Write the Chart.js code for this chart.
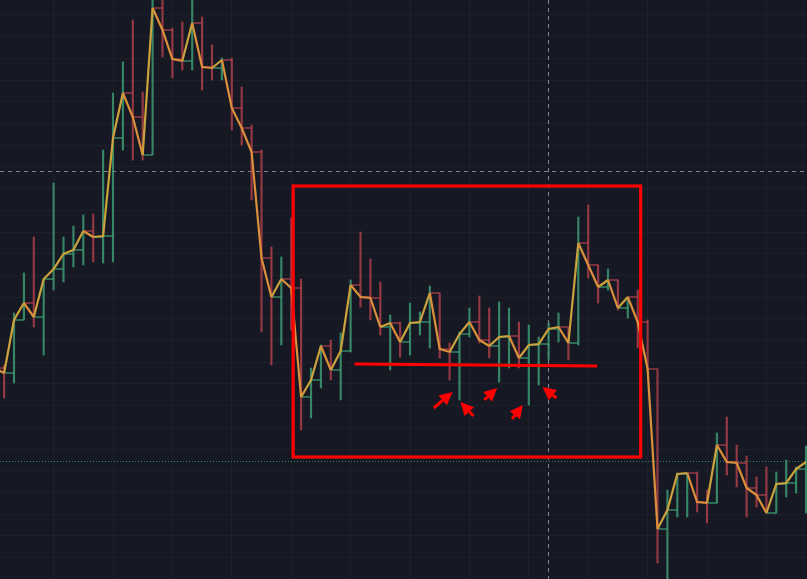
<!DOCTYPE html>
<html>
<head>
<meta charset="utf-8">
<script src="https://cdn.jsdelivr.net/npm/chart.js@4.4.1/dist/chart.umd.min.js"></script>
<style>
html,body{margin:0;padding:0;background:#161924;overflow:hidden}
#wrap{width:807px;height:579px;position:relative}
canvas{display:block}
</style>
</head>
<body>
<div id="wrap"><canvas id="c" width="807" height="579"></canvas></div>
<script>
// ---- data (price units) ----
const opens  = [240,232,227,280,297,283,321,331,346,350,369,363,364,462,507,483,445,592,570,541,539,577,533,532,540,492,472,448,342,303,321,312,203,220,254,230,249,315,303,302,273,277,258,277,278,307,251,248,266,278,260,254,263,264,242,255,256,271,273,257,357,335,313,320,292,303,278,231,71,90,126,127,98,97,155,138,137,112,105,87,116,117,131];
const highs  = [245,235,287,327,363,320,417,363,374,385,386,450,507,538,580,508,605,605,572,578,605,583,555,542,542,513,475,450,353,343,382,321,232,255,260,267,320,368,341,318,285,278,297,288,314,307,257,268,292,304,292,298,292,278,275,263,277,287,273,383,395,335,331,320,303,310,280,231,110,127,127,128,110,167,183,155,144,123,133,128,140,133,154];
const lows   = [225,202,217,280,273,245,310,318,333,335,338,337,338,450,440,440,445,543,522,530,530,510,520,520,470,455,400,268,235,255,270,170,182,212,220,200,248,293,280,265,230,243,245,265,252,242,220,200,263,257,242,218,232,232,195,215,240,258,240,255,322,297,310,290,282,252,230,37,10,83,83,88,77,97,125,113,83,93,87,87,103,107,87];
const closes = [232,227,280,297,283,321,331,346,350,369,363,364,462,507,483,445,592,570,541,539,577,533,532,540,492,472,448,342,303,321,312,203,220,254,230,249,315,303,302,273,277,258,277,278,307,251,248,266,278,260,254,263,264,242,255,256,271,273,257,357,335,313,320,292,303,278,231,71,90,126,127,98,97,155,138,137,112,105,87,116,117,131,138];
const barIndex = closes.map((_, i) => i);

// grid positions (no labels shown on the chart)
const xGridTicks = [0,6,12,18,24,30,36,42,48,54,60,66,72,78];
const yGridTicks = [585,563.3,541.6,519.9,498.2,476.5,454.8,433.1,411.4,389.7,368,346.3,324.6,302.9,281.2,259.5,237.8,216.1,194.4,172.7,151,129.3,107.6,85.9,64.2,42.5];

// drawn annotations (in bar-index / price units)
const highlightBox = [30.2, 65.3, 143, 414];      // fromBar, toBar, lowPrice, highPrice
const supportLine  = [36.4, 236, 60.9, 234];      // bar, price, bar, price
const arrowTails   = [[44.4,192],[48.4,184],[49.5,200],[52.3,181],[56.8,202]];
const arrowHeads   = [[46.3,208],[47.1,198],[50.8,212],[53.4,195],[55.4,213]];
const crosshair    = [55.94, 429];                 // bar, price
const markerLevel  = 139;                          // dotted green price level

const UP = 'rgba(62,160,118,0.8)';
const DOWN = 'rgba(180,64,76,0.8)';
const isUp = i => closes[i] >= opens[i];

const wickData = barIndex.map(i => ({x: i, y: [lows[i], highs[i]]}));
const closeData = barIndex.map(i => ({x: i, y: closes[i]}));
const openTickData = [];
barIndex.forEach(i => {
  openTickData.push({x: i - 1, y: opens[i]});
  openTickData.push({x: i, y: opens[i]});
  openTickData.push({x: i + 0.5, y: null});
});

const bgPlugin = {
  id: 'bg',
  beforeDraw(chart) {
    const {ctx, width, height} = chart;
    ctx.save();
    ctx.fillStyle = '#161924';
    ctx.fillRect(0, 0, width, height);
    ctx.restore();
  }
};

const underlayPlugin = {
  id: 'underlay',
  beforeDatasetsDraw(chart) {
    const {ctx, chartArea: a, scales: {x, y}} = chart;
    ctx.save();
    ctx.strokeStyle = 'rgba(52,150,105,0.9)';
    ctx.lineWidth = 1;
    ctx.setLineDash([1, 2]);
    const gy = Math.round(y.getPixelForValue(markerLevel)) + 0.5;
    ctx.beginPath(); ctx.moveTo(a.left, gy); ctx.lineTo(a.right, gy); ctx.stroke();
    ctx.strokeStyle = 'rgba(150,153,162,0.85)';
    ctx.setLineDash([4, 4]);
    const cx = Math.round(x.getPixelForValue(crosshair[0])) + 0.5;
    const cy = Math.round(y.getPixelForValue(crosshair[1])) + 0.5;
    ctx.beginPath(); ctx.moveTo(cx, a.top); ctx.lineTo(cx, a.bottom); ctx.stroke();
    ctx.beginPath(); ctx.moveTo(a.left, cy); ctx.lineTo(a.right, cy); ctx.stroke();
    ctx.restore();
  }
};

function drawArrow(ctx, x0, y0, x1, y1) {
  const ang = Math.atan2(y1 - y0, x1 - x0);
  const L = 13, W = 6.5;
  const bx = x1 - L * Math.cos(ang), by = y1 - L * Math.sin(ang);
  ctx.beginPath(); ctx.moveTo(x0, y0); ctx.lineTo(bx, by); ctx.stroke();
  ctx.beginPath();
  ctx.moveTo(x1, y1);
  ctx.lineTo(bx + W * Math.sin(ang), by - W * Math.cos(ang));
  ctx.lineTo(bx - W * Math.sin(ang), by + W * Math.cos(ang));
  ctx.closePath(); ctx.fill();
}

const overlayPlugin = {
  id: 'overlay',
  afterDatasetsDraw(chart) {
    const {ctx, scales: {x, y}} = chart;
    ctx.save();
    ctx.strokeStyle = '#ff0000';
    ctx.fillStyle = '#ff0000';
    ctx.lineWidth = 3.2;
    const x0 = x.getPixelForValue(highlightBox[0]), x1 = x.getPixelForValue(highlightBox[1]);
    const y0 = y.getPixelForValue(highlightBox[3]), y1 = y.getPixelForValue(highlightBox[2]);
    ctx.strokeRect(x0, y0, x1 - x0, y1 - y0);
    ctx.lineWidth = 3;
    ctx.beginPath();
    ctx.moveTo(x.getPixelForValue(supportLine[0]), y.getPixelForValue(supportLine[1]));
    ctx.lineTo(x.getPixelForValue(supportLine[2]), y.getPixelForValue(supportLine[3]));
    ctx.stroke();
    arrowTails.forEach((t, i) => {
      const h = arrowHeads[i];
      drawArrow(ctx, x.getPixelForValue(t[0]), y.getPixelForValue(t[1]),
                     x.getPixelForValue(h[0]), y.getPixelForValue(h[1]));
    });
    ctx.restore();
  }
};

const gridColor = 'rgba(255,255,255,0.032)';

new Chart(document.getElementById('c'), {
  type: 'bar',
  data: {
    datasets: [
      {
        type: 'line',
        data: closeData,
        borderColor: '#d89a3a',
        borderWidth: 2.2,
        pointRadius: 0,
        tension: 0,
        order: 0,
        segment: {
          borderColor: ctx => ctx.p1.parsed.y >= ctx.p0.parsed.y ? '#cca23d' : '#dc903b'
        }
      },
      {
        type: 'bar',
        data: wickData,
        backgroundColor: barIndex.map(i => isUp(i) ? UP : DOWN),
        borderWidth: 0,
        barThickness: 1.5,
        grouped: false,
        order: 1
      },
      {
        type: 'line',
        data: openTickData,
        borderWidth: 1.5,
        pointRadius: 0,
        spanGaps: false,
        tension: 0,
        order: 2,
        borderColor: UP,
        segment: {
          borderColor: ctx => isUp(Math.floor(ctx.p0DataIndex / 3)) ? UP : DOWN
        }
      }
    ]
  },
  options: {
    responsive: false,
    animation: false,
    events: [],
    layout: {padding: 0},
    plugins: {legend: {display: false}, tooltip: {enabled: false}},
    scales: {
      x: {
        type: 'linear',
        min: 0.586,
        max: 82.1,
        offset: false,
        afterBuildTicks: s => { s.ticks = xGridTicks.map(v => ({value: v})); },
        grid: {color: gridColor, drawTicks: false, offset: false},
        border: {display: false},
        ticks: {display: false}
      },
      y: {
        type: 'linear',
        min: 21,
        max: 600,
        afterBuildTicks: s => { s.ticks = yGridTicks.map(v => ({value: v})); },
        grid: {color: gridColor, drawTicks: false},
        border: {display: false},
        ticks: {display: false}
      }
    }
  },
  plugins: [bgPlugin, underlayPlugin, overlayPlugin]
});
</script>
</body>
</html>
